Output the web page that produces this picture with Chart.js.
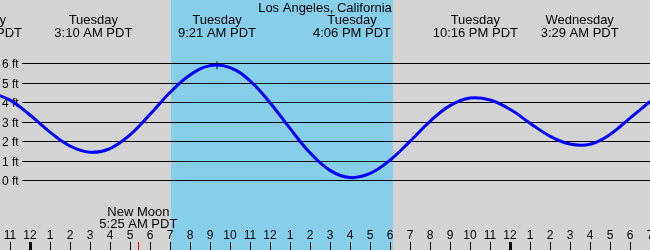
<!DOCTYPE html>
<html>
<head>
<meta charset="utf-8">
<title>Los Angeles tide</title>
<script src="https://cdn.jsdelivr.net/npm/chart.js@4/dist/chart.umd.min.js"></script>
<style>
    html, body { margin: 0; padding: 0; background: #d3d3d3; }
    canvas { display: block; }
</style>
</head>
<body>
<canvas id="tideChart" width="650" height="250"></canvas>
<script>
const tideHours = [-2, -1, 0, 1, 2, 3, 4, 5, 6, 7, 8, 9, 10, 11, 12, 13, 14, 15, 16, 17, 18, 19, 20, 21, 22, 23, 24, 25, 26, 27, 28, 29, 30, 31];
const tideFeet = [4.53, 4.12, 3.36, 2.48, 1.77, 1.45, 1.64, 2.34, 3.39, 4.51, 5.41, 5.89, 5.79, 5.11, 3.99, 2.67, 1.42, 0.52, 0.15, 0.36, 1.04, 2.01, 3.03, 3.84, 4.23, 4.13, 3.65, 2.94, 2.27, 1.87, 1.86, 2.36, 3.2, 4.05];

const extremeHours = [-2.35, 3.167, 9.35, 16.1, 22.267, 27.483];
const extremeDays = ['Monday', 'Tuesday', 'Tuesday', 'Tuesday', 'Tuesday', 'Wednesday'];
const extremeTimes = ['9:39 PM PDT', '3:10 AM PDT', '9:21 AM PDT', '4:06 PM PDT', '10:16 PM PDT', '3:29 AM PDT'];

const peakHour = 9.35;
const peakFeet = 5.91;

const sunrise = 7.05;
const sunset = 18.15;

const moonHour = 5.417;
const moonLabel = ['New Moon', '5:25 AM PDT'];

const feetTicks = [0, 1, 2, 3, 4, 5, 6];
const hourTicks = [-1, 0, 1, 2, 3, 4, 5, 6, 7, 8, 9, 10, 11, 12, 13, 14, 15, 16, 17, 18, 19, 20, 21, 22, 23, 24, 25, 26, 27, 28, 29, 30, 31];
const hourLabels = ['11', '12', '1', '2', '3', '4', '5', '6', '7', '8', '9', '10', '11', '12', '1', '2', '3', '4', '5', '6', '7', '8', '9', '10', '11', '12', '1', '2', '3', '4', '5', '6', '7'];

const title = 'Los Angeles, California';

const FONT = 'Liberation Sans, Arial, sans-serif';

function crisp(v) {
    return Math.round(v - 0.5) + 0.5;
}

// backdrop, day band, feet lines
const backdrop = {
    id: 'backdrop',
    beforeDatasetsDraw(chart) {
        const { ctx, scales: { x, y } } = chart;
        const W = chart.width, H = chart.height;
        ctx.save();
        ctx.fillStyle = '#d3d3d3';
        ctx.fillRect(0, 0, W, H);
        const x0 = Math.round(x.getPixelForValue(sunrise));
        const x1 = Math.round(x.getPixelForValue(sunset));
        ctx.fillStyle = '#87ceeb';
        ctx.fillRect(x0, 0, x1 - x0, H);

        ctx.strokeStyle = '#000';
        ctx.lineWidth = 1;
        ctx.fillStyle = '#000';
        ctx.font = '12px ' + FONT;
        ctx.textBaseline = 'alphabetic';
        ctx.textAlign = 'left';
        feetTicks.forEach(f => {
            const py = crisp(y.getPixelForValue(f));
            ctx.beginPath();
            ctx.moveTo(22, py);
            ctx.lineTo(W, py);
            ctx.stroke();
            ctx.fillText(f + ' ft', 2, py + 4);
        });
        ctx.restore();
    }
};

// text labels and hour ticks
const annotations = {
    id: 'annotations',
    afterDraw(chart) {
        const { ctx, scales: { x } } = chart;
        const W = chart.width, H = chart.height;
        ctx.save();
        ctx.fillStyle = '#000';
        ctx.textAlign = 'center';
        ctx.textBaseline = 'alphabetic';
        ctx.font = '13px ' + FONT;
        ctx.fillText(title, W / 2, 12);

        extremeHours.forEach((h, i) => {
            const px = x.getPixelForValue(h);
            ctx.fillText(extremeDays[i], px, 24);
            ctx.fillText(extremeTimes[i], px, 37);
        });

        const mx = x.getPixelForValue(moonHour);
        ctx.fillText(moonLabel[0], mx, 216);
        ctx.fillText(moonLabel[1], mx, 228);

        ctx.font = '12px ' + FONT;
        hourTicks.forEach((h, i) => {
            const px = x.getPixelForValue(h);
            ctx.fillText(hourLabels[i], px, 239);
            if (h % 24 === 0) {
                ctx.fillRect(Math.round(px) - 1, 242, 3, H - 242);
            } else {
                ctx.fillRect(Math.round(px), 242, 1, H - 242);
            }
        });

        ctx.fillStyle = '#ff0000';
        ctx.fillRect(Math.round(mx), 242, 1, H - 242);
        ctx.restore();
    }
};

const ctx = document.getElementById('tideChart').getContext('2d');
new Chart(ctx, {
    type: 'line',
    data: {
        datasets: [{
            data: tideHours.map((h, i) => ({ x: h, y: tideFeet[i] })),
            borderColor: '#0000ff',
            borderWidth: 3,
            pointRadius: 0,
            fill: false,
            tension: 0.4
        }, {
            data: [{ x: peakHour, y: peakFeet }],
            showLine: false,
            pointStyle: 'cross',
            pointRadius: 4,
            borderColor: '#000',
            borderWidth: 1
        }]
    },
    options: {
        responsive: false,
        animation: false,
        events: [],
        layout: { padding: 0, autoPadding: false },
        plugins: { legend: { display: false }, tooltip: { enabled: false } },
        scales: {
            x: { type: 'linear', min: -1.5, max: 31, display: false },
            y: { type: 'linear', min: -69.5 / 19.5, max: 180.5 / 19.5, display: false }
        }
    },
    plugins: [backdrop, annotations]
});
</script>
</body>
</html>
